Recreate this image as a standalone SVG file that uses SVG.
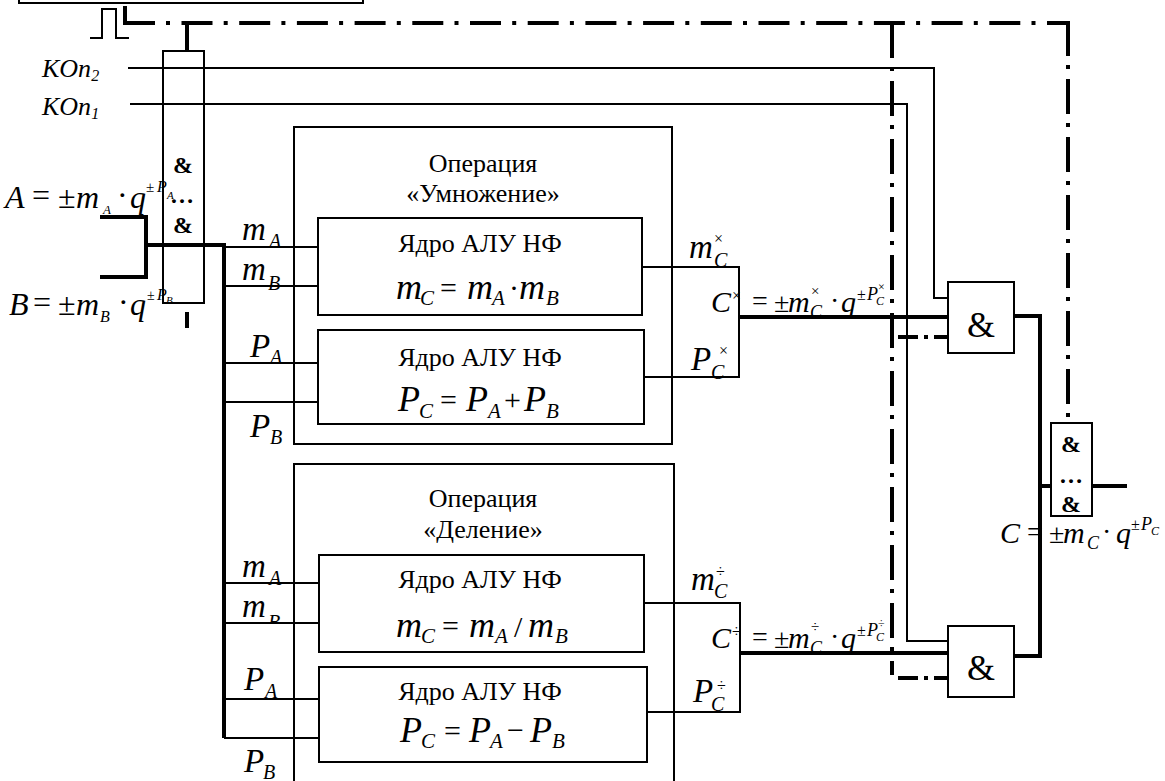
<svg xmlns="http://www.w3.org/2000/svg" width="1165" height="781" viewBox="0 0 1165 781" font-family="Liberation Serif, Times New Roman, serif">
<defs>
<style>
.ln{stroke:#000;stroke-width:2;fill:none}
.thk{stroke:#000;stroke-width:4;fill:none}
.ddh{stroke:#000;stroke-width:4;fill:none;stroke-dasharray:4 11.5 31 11.2}
.ddv{stroke:#000;stroke-width:4;fill:none;stroke-dasharray:35 9 4 10}
.dds{stroke:#000;stroke-width:4;fill:none;stroke-dasharray:20 6 4 6}
.box{fill:none;stroke:#000;stroke-width:2}
.wbox{fill:#fff;stroke:#000;stroke-width:2}
.t{fill:#000}
.i{font-style:italic}
.b{font-weight:bold}
.ru{font-size:26px}
.mid{text-anchor:middle}
</style>
<clipPath id="clipMB"><rect x="230" y="590" width="60" height="32"/></clipPath>
</defs>

<g id="connectors">
  <polyline class="ln" stroke-width="2.5" points="90,38 102,38 102,9 116,9 116,38 129,38"/>
  <path class="thk" d="M125,6 V23 H155"/>
  <path class="ddh" d="M166,23 H1070"/>
  <path class="thk" d="M187,23 V51"/>
  <path class="thk" d="M187,312 V328"/>
  <path class="ddv" d="M892,23 V675"/>
  <path class="dds" d="M898,337 H948"/>
  <path class="dds" d="M898,678 H948"/>
  <path class="ddv" d="M1068,21 V417"/>
  <path class="ln" d="M128,68 H934 V298 H948"/>
  <path class="ln" d="M130,104 H907 V641 H948"/>
  <path class="thk" d="M100,217 H146 V277 H100"/>
  <path class="thk" d="M146,245 H224 V738"/>
  <path class="ln" d="M224,247 H318 M224,286 H318 M224,363 H318 M224,402 H318"/>
  <path class="ln" d="M224,583 H319 M224,623 H319 M224,699 H319 M224,738 H319"/>
  <path class="ln" d="M642,267 H739 V377 H644"/>
  <path class="ln" d="M644,603 H740 V712 H647"/>
  <path class="thk" d="M739,317 H948"/>
  <path class="thk" d="M740,653 H948"/>
  <path class="thk" d="M1014,316 H1040 V656 H1014"/>
  <path class="thk" d="M1040,486 H1051"/>
  <path class="thk" d="M1092,486 H1127"/>
</g>

<g id="ctrl-box">
  <rect class="box" x="19" y="-20" width="344" height="23"/>
</g>

<g id="and-in">
  <rect class="box" x="163" y="51" width="41" height="252"/>
  <text class="b mid" font-size="24" x="183" y="173">&amp;</text>
  <text class="b mid" font-size="24" x="182" y="203">…</text>
  <text class="b mid" font-size="24" x="183" y="233">&amp;</text>
</g>

<g id="op-mul">
  <rect class="box" x="294" y="127" width="378" height="317"/>
  <text class="ru mid" x="483" y="172">Операция</text>
  <text class="ru mid" x="483" y="202">«Умножение»</text>
</g>
<g id="core-mul-m">
  <rect class="wbox" x="318" y="218" width="324" height="97"/>
  <text class="ru mid" x="480" y="252">Ядро АЛУ НФ</text>
  <text font-size="36"><tspan class="i" x="396" y="299">m</tspan><tspan class="i" font-size="21" x="420" y="305">C</tspan><tspan font-size="30" x="440" y="298">=</tspan><tspan class="i" x="467" y="299">m</tspan><tspan class="i" font-size="21" x="492" y="305">A</tspan><tspan font-size="30" x="509" y="298">·</tspan><tspan class="i" x="519" y="299">m</tspan><tspan class="i" font-size="21" x="546" y="305">B</tspan></text>
</g>
<g id="core-mul-p">
  <rect class="wbox" x="318" y="330" width="326" height="94"/>
  <text class="ru mid" x="480" y="366">Ядро АЛУ НФ</text>
  <text font-size="36"><tspan class="i" x="398" y="411">P</tspan><tspan class="i" font-size="21" x="419" y="418">C</tspan><tspan font-size="30" x="440" y="410">=</tspan><tspan class="i" x="466" y="411">P</tspan><tspan class="i" font-size="21" x="488" y="418">A</tspan><tspan font-size="30" x="504" y="410">+</tspan><tspan class="i" x="524" y="411">P</tspan><tspan class="i" font-size="21" x="546" y="418">B</tspan></text>
</g>

<g id="op-div">
  <rect class="box" x="294" y="464" width="380" height="330"/>
  <text class="ru mid" x="483" y="507">Операция</text>
  <text class="ru mid" x="483" y="538">«Деление»</text>
</g>
<g id="core-div-m">
  <rect class="wbox" x="319" y="555" width="325" height="97"/>
  <text class="ru mid" x="480" y="588">Ядро АЛУ НФ</text>
  <text font-size="36"><tspan class="i" x="396" y="637">m</tspan><tspan class="i" font-size="21" x="421" y="643">C</tspan><tspan font-size="30" x="442" y="636">=</tspan><tspan class="i" x="469" y="637">m</tspan><tspan class="i" font-size="21" x="495" y="643">A</tspan><tspan font-size="30" x="514" y="637">/</tspan><tspan class="i" x="528" y="637">m</tspan><tspan class="i" font-size="21" x="555" y="643">B</tspan></text>
</g>
<g id="core-div-p">
  <rect class="wbox" x="319" y="667" width="328" height="95"/>
  <text class="ru mid" x="480" y="700">Ядро АЛУ НФ</text>
  <text font-size="36"><tspan class="i" x="400" y="742">P</tspan><tspan class="i" font-size="21" x="421" y="748">C</tspan><tspan font-size="30" x="444" y="741">=</tspan><tspan class="i" x="469" y="742">P</tspan><tspan class="i" font-size="21" x="490" y="748">A</tspan><tspan font-size="30" x="507" y="740">−</tspan><tspan class="i" x="530" y="742">P</tspan><tspan class="i" font-size="21" x="552" y="748">B</tspan></text>
</g>

<g id="and-mul">
  <rect class="wbox" x="948" y="282" width="66" height="71"/>
  <text class="mid" font-size="36" x="981" y="337">&amp;</text>
</g>
<g id="and-div">
  <rect class="wbox" x="948" y="626" width="66" height="71"/>
  <text class="mid" font-size="36" x="981" y="680">&amp;</text>
</g>
<g id="and-out">
  <rect class="wbox" x="1051" y="423" width="41" height="93"/>
  <text class="b mid" font-size="24" x="1071" y="452">&amp;</text>
  <text class="b mid" font-size="24" x="1071" y="483">…</text>
  <text class="b mid" font-size="24" x="1071" y="512">&amp;</text>
</g>

<g id="labels">
  <text class="i" font-size="26" x="42" y="77">KOn<tspan font-size="16" y="81">2</tspan></text>
  <text class="i" font-size="26" x="42" y="115">KOn<tspan font-size="16" y="119">1</tspan></text>

  <text font-size="32"><tspan class="i" x="5" y="208">A</tspan><tspan x="32" y="206">=</tspan><tspan x="58" y="208">±</tspan><tspan class="i" x="76" y="208">m</tspan><tspan class="i" font-size="13" x="103" y="214">A</tspan><tspan x="117" y="206">·</tspan><tspan class="i" x="130" y="208">q</tspan><tspan font-size="15" x="146" y="192">±</tspan><tspan class="i" font-size="16" x="157" y="192">P</tspan><tspan class="i" font-size="11" x="167" y="199">A</tspan></text>
  <text font-size="32"><tspan class="i" x="9" y="315">B</tspan><tspan x="33" y="313">=</tspan><tspan x="58" y="315">±</tspan><tspan class="i" x="76" y="315">m</tspan><tspan class="i" font-size="16" x="100" y="322">B</tspan><tspan x="118" y="313">·</tspan><tspan class="i" x="130" y="315">q</tspan><tspan font-size="14" x="147" y="300">±</tspan><tspan class="i" font-size="16" x="157" y="300">P</tspan><tspan class="i" font-size="11" x="166" y="304">B</tspan></text>

  <text class="i" font-size="33"><tspan x="242" y="240">m</tspan><tspan font-size="20" x="269" y="248">A</tspan></text>
  <text class="i" font-size="33"><tspan x="242" y="280">m</tspan><tspan font-size="20" x="268" y="290">B</tspan></text>
  <text class="i" font-size="33"><tspan x="250" y="357">P</tspan><tspan font-size="20" x="270" y="364">A</tspan></text>
  <text class="i" font-size="33"><tspan x="250" y="437">P</tspan><tspan font-size="20" x="270" y="444">B</tspan></text>

  <text class="i" font-size="33"><tspan x="242" y="577">m</tspan><tspan font-size="20" x="269" y="585">A</tspan></text>
  <text class="i" font-size="33" x="242" y="617">m</text>
  <text class="i" font-size="20" x="268" y="629" clip-path="url(#clipMB)">B</text>
  <text class="i" font-size="33"><tspan x="244" y="690">P</tspan><tspan font-size="20" x="265" y="698">A</tspan></text>
  <text class="i" font-size="33"><tspan x="244" y="772">P</tspan><tspan font-size="20" x="263" y="779">B</tspan></text>

  <text font-size="33"><tspan class="i" x="689" y="258">m</tspan><tspan class="i" font-size="20" x="714" y="267">C</tspan><tspan font-size="16" x="714" y="244">×</tspan></text>
  <text font-size="33"><tspan class="i" x="691" y="370">P</tspan><tspan class="i" font-size="20" x="711" y="379">C</tspan><tspan font-size="16" x="719" y="356">×</tspan></text>
  <text font-size="33"><tspan class="i" x="691" y="590">m</tspan><tspan class="i" font-size="20" x="714" y="598">C</tspan><tspan font-size="16" x="716" y="577">÷</tspan></text>
  <text font-size="33"><tspan class="i" x="693" y="702">P</tspan><tspan class="i" font-size="20" x="711" y="711">C</tspan><tspan font-size="16" x="717" y="691">÷</tspan></text>

  <text font-size="28"><tspan class="i" font-size="30" x="711" y="312">C</tspan><tspan font-size="16" x="732" y="301">×</tspan><tspan x="752" y="310">=</tspan><tspan x="774" y="312">±</tspan><tspan class="i" font-size="30" x="788" y="312">m</tspan><tspan class="i" font-size="18" x="810" y="318">C</tspan><tspan font-size="15" x="811" y="296">×</tspan><tspan x="830" y="310">·</tspan><tspan class="i" font-size="30" x="841" y="312">q</tspan><tspan font-size="16" x="857" y="300">±</tspan><tspan class="i" font-size="18" x="867" y="300">P</tspan><tspan class="i" font-size="12" x="876" y="305">C</tspan><tspan font-size="12" x="878" y="291">×</tspan></text>
  <text font-size="28"><tspan class="i" font-size="30" x="711" y="648">C</tspan><tspan font-size="16" x="732" y="637">÷</tspan><tspan x="752" y="646">=</tspan><tspan x="774" y="648">±</tspan><tspan class="i" font-size="30" x="788" y="648">m</tspan><tspan class="i" font-size="18" x="810" y="654">C</tspan><tspan font-size="15" x="811" y="632">÷</tspan><tspan x="830" y="646">·</tspan><tspan class="i" font-size="30" x="841" y="648">q</tspan><tspan font-size="16" x="857" y="636">±</tspan><tspan class="i" font-size="18" x="867" y="636">P</tspan><tspan class="i" font-size="12" x="876" y="641">C</tspan><tspan font-size="12" x="878" y="627">÷</tspan></text>

  <text font-size="28"><tspan class="i" font-size="30" x="1000" y="543">C</tspan><tspan x="1027" y="541">=</tspan><tspan x="1049" y="543">±</tspan><tspan class="i" font-size="30" x="1063" y="543">m</tspan><tspan class="i" font-size="18" x="1087" y="549">C</tspan><tspan x="1102" y="541">·</tspan><tspan class="i" font-size="30" x="1116" y="543">q</tspan><tspan font-size="16" x="1131" y="530">±</tspan><tspan class="i" font-size="18" x="1141" y="530">P</tspan><tspan class="i" font-size="12" x="1151" y="535">C</tspan></text>
</g>
</svg>
